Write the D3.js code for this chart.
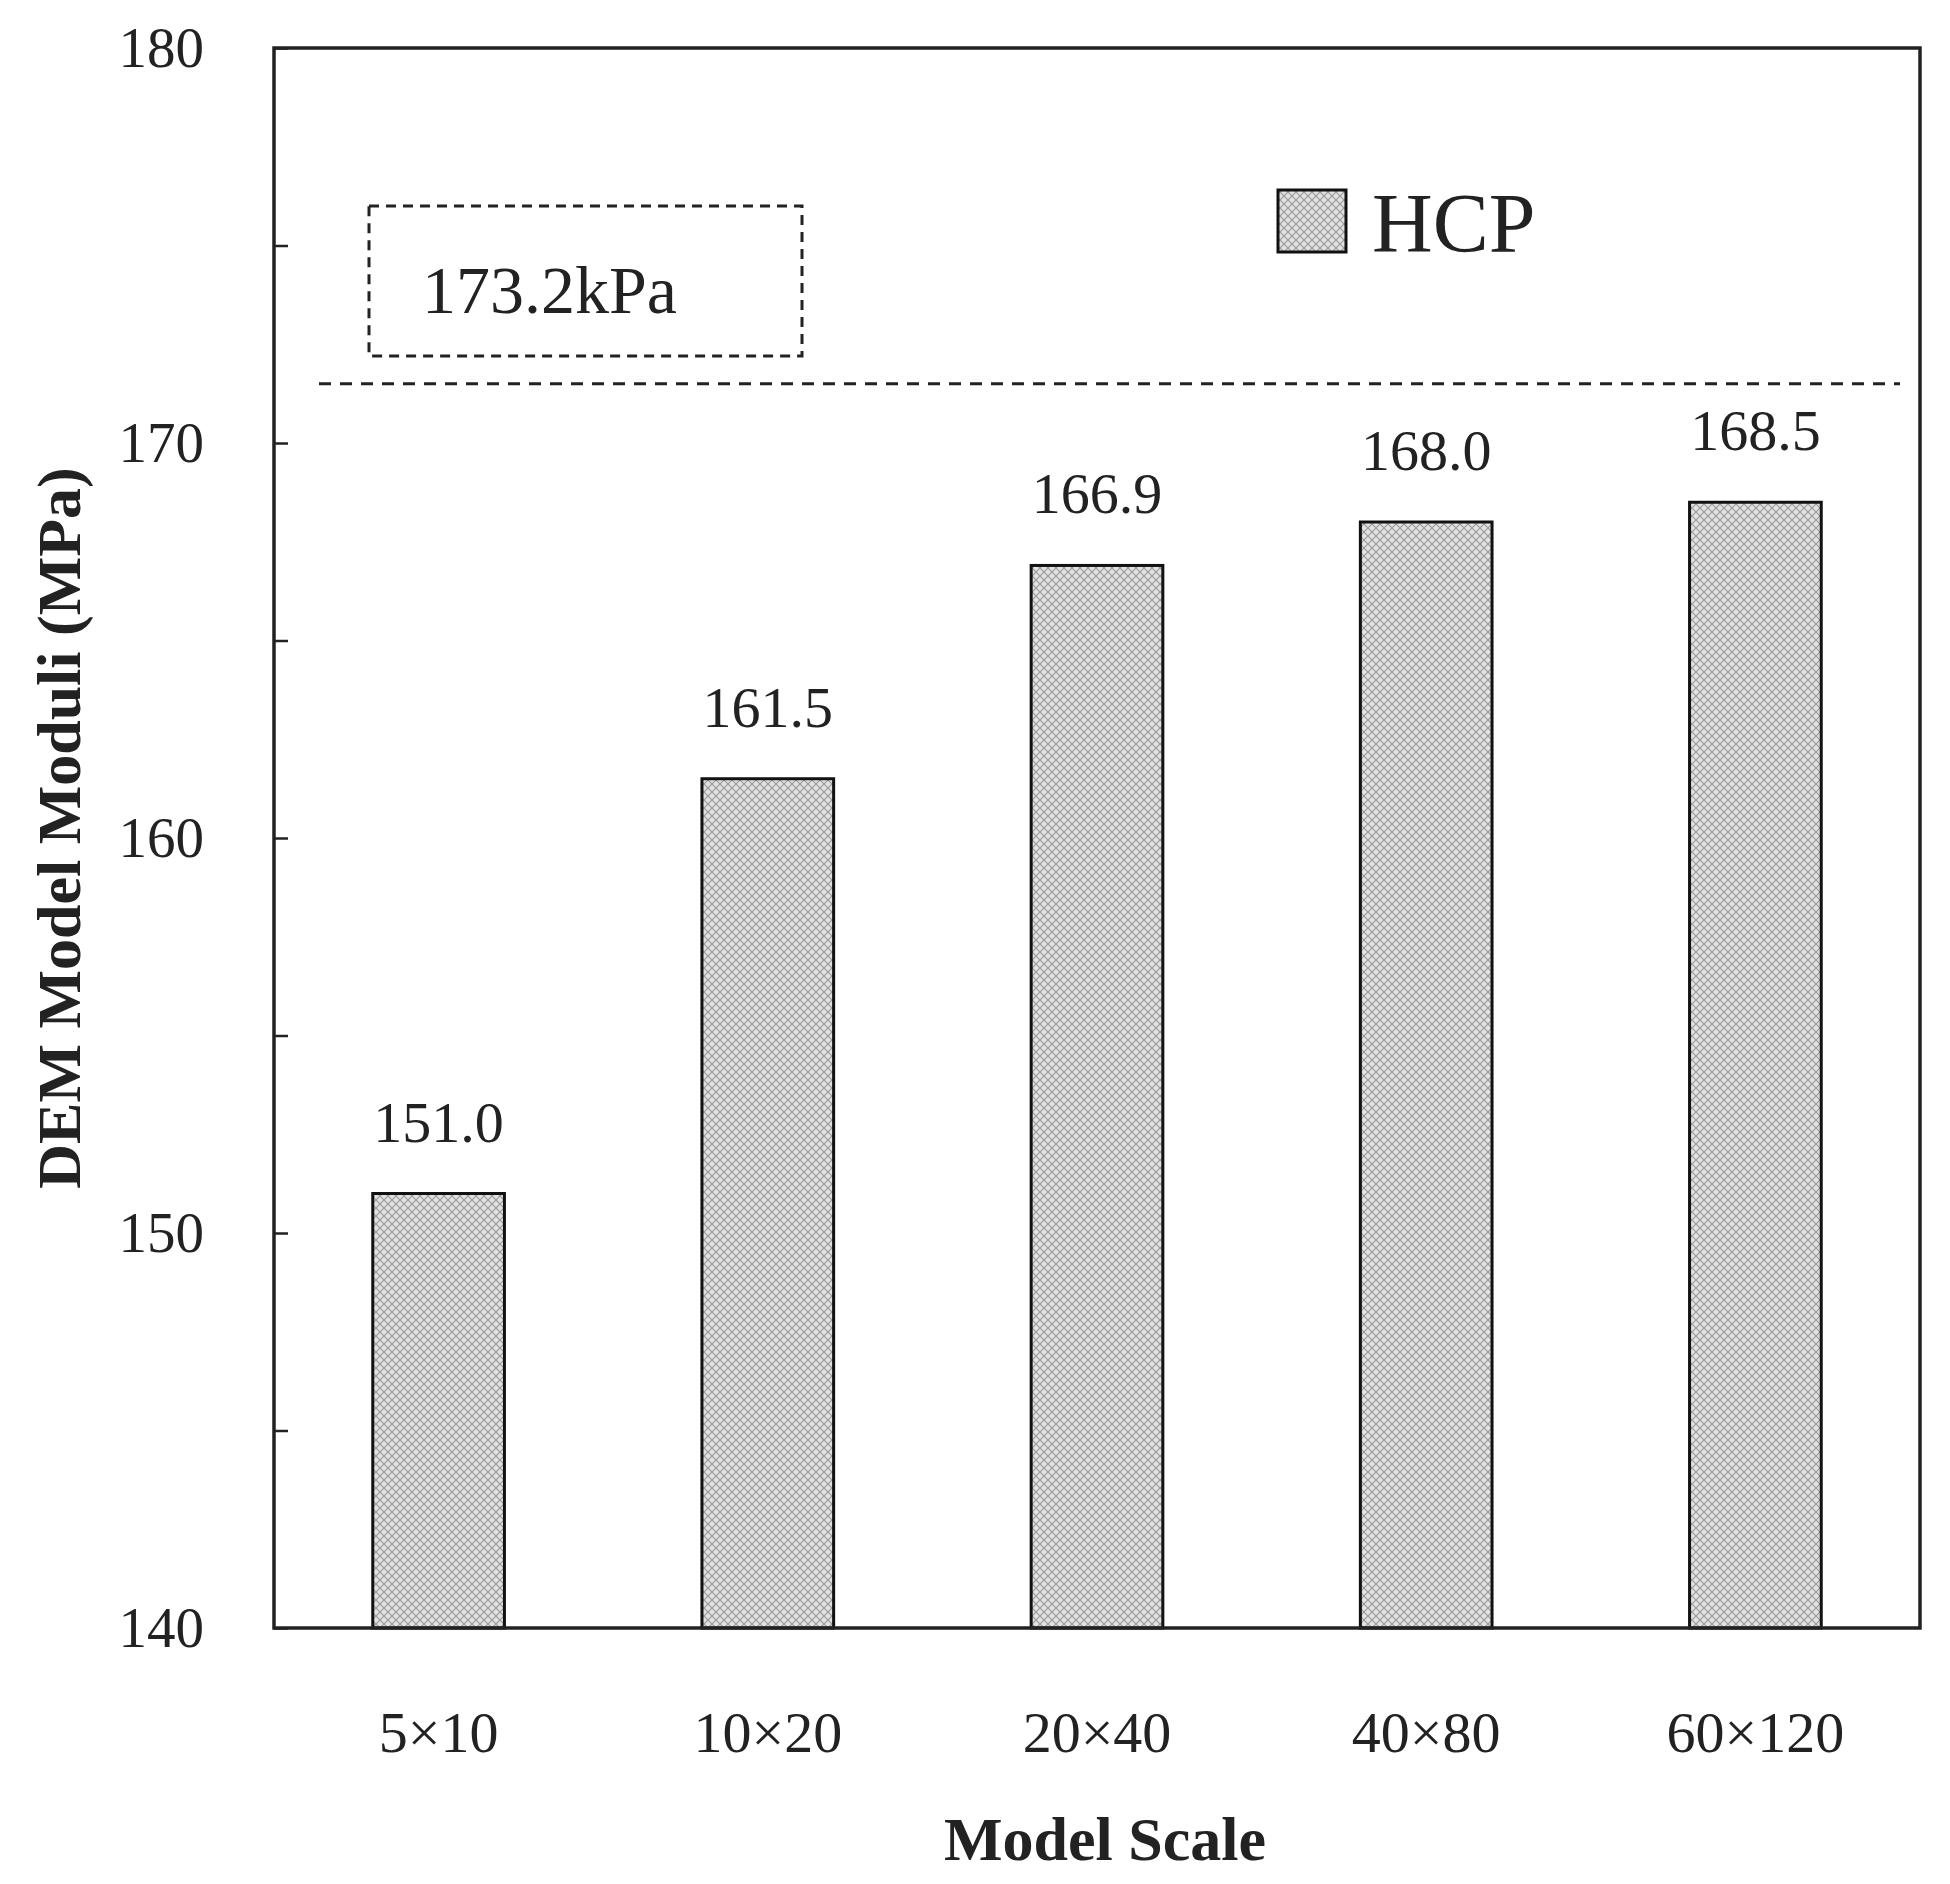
<!DOCTYPE html>
<html><head><meta charset="utf-8">
<script src="https://cdn.jsdelivr.net/npm/d3@7"></script>
<style>body{margin:0;background:#fff}text{font-family:"Liberation Serif","Times New Roman",serif}</style>
</head><body><svg id="c" width="1950" height="1884"></svg>
<script>
const categories = ["5×10", "10×20", "20×40", "40×80", "60×120"];
const moduli = [151.0, 161.5, 166.9, 168.0, 168.5];
const yTicks = [140, 150, 160, 170, 180];
const refLine = 171.5;
const refLabel = "173.2kPa";

const m = {left: 274, top: 48, right: 1920, bottom: 1628};
const svg = d3.select("#c");
const defs = svg.append("defs");
const pat = defs.append("pattern").attr("id", "hatch").attr("patternUnits", "userSpaceOnUse")
  .attr("width", 8).attr("height", 8);
pat.append("rect").attr("width", 8).attr("height", 8).attr("fill", "#e2e2e2");
pat.append("path").attr("d", "M0,0L8,8M8,0L0,8").attr("stroke", "#9a9a9a").attr("stroke-width", 1.2);

const x = d3.scaleBand().domain(categories).range([m.left, m.right]).paddingInner(0.6).paddingOuter(0.3);
const y = d3.scaleLinear().domain([140, 180]).range([m.bottom, m.top]);

// y axis ticks (inward)
const ya = svg.append("g").attr("transform", `translate(${m.left},0)`)
  .call(d3.axisRight(y).tickValues(d3.range(140, 181, 5)).tickSize(14).tickFormat(""));
ya.select(".domain").remove();
ya.selectAll("line").attr("stroke", "#222").attr("stroke-width", 2.5);
svg.append("g").selectAll("text").data(yTicks).join("text")
  .attr("x", m.left - 70).attr("y", d => y(d) + 19).attr("text-anchor", "end")
  .attr("font-size", 57).attr("fill", "#222").text(d => d);

// bars
svg.append("g").selectAll("rect").data(moduli).join("rect")
  .attr("x", (d, i) => x(categories[i])).attr("width", x.bandwidth())
  .attr("y", d => y(d)).attr("height", d => y(140) - y(d))
  .attr("fill", "url(#hatch)").attr("stroke", "#111").attr("stroke-width", 3);
svg.append("g").selectAll("text").data(moduli).join("text")
  .attr("x", (d, i) => x(categories[i]) + x.bandwidth() / 2).attr("y", d => y(d) - 52)
  .attr("text-anchor", "middle").attr("font-size", 58).attr("fill", "#222").text(d => d.toFixed(1));

// frame
svg.append("rect").attr("x", m.left).attr("y", m.top).attr("width", m.right - m.left)
  .attr("height", m.bottom - m.top).attr("fill", "none").attr("stroke", "#222").attr("stroke-width", 3.5);

// x labels
svg.append("g").selectAll("text").data(categories).join("text")
  .attr("x", d => x(d) + x.bandwidth() / 2).attr("y", 1752).attr("text-anchor", "middle")
  .attr("font-size", 58).attr("fill", "#222").text(d => d);

// reference line
svg.append("line").attr("x1", m.left + 45).attr("x2", 1900).attr("y1", y(refLine)).attr("y2", y(refLine))
  .attr("stroke", "#222").attr("stroke-width", 3).attr("stroke-dasharray", "12,9");
svg.append("rect").attr("x", 369).attr("y", y(176)).attr("width", 433).attr("height", y(172.2) - y(176))
  .attr("fill", "none").attr("stroke", "#222").attr("stroke-width", 3).attr("stroke-dasharray", "10,7");
svg.append("text").attr("x", 422).attr("y", y(173.3)).attr("font-size", 68).attr("fill", "#222").text(refLabel);

// legend
svg.append("rect").attr("x", 1278).attr("y", 190).attr("width", 68).attr("height", 62)
  .attr("fill", "url(#hatch)").attr("stroke", "#111").attr("stroke-width", 3);
svg.append("text").attr("x", 1372).attr("y", 252).attr("font-size", 84).attr("fill", "#222").text("HCP");

// titles
svg.append("text").attr("x", 1105).attr("y", 1860).attr("text-anchor", "middle")
  .attr("font-size", 62).attr("font-weight", "bold").attr("fill", "#222").text("Model Scale");
svg.append("text").attr("transform", `translate(80,${(m.top + m.bottom) / 2 - 10}) rotate(-90)`)
  .attr("text-anchor", "middle").attr("font-size", 62).attr("font-weight", "bold").attr("fill", "#222")
  .text("DEM Model Moduli (MPa)");
</script></body></html>
